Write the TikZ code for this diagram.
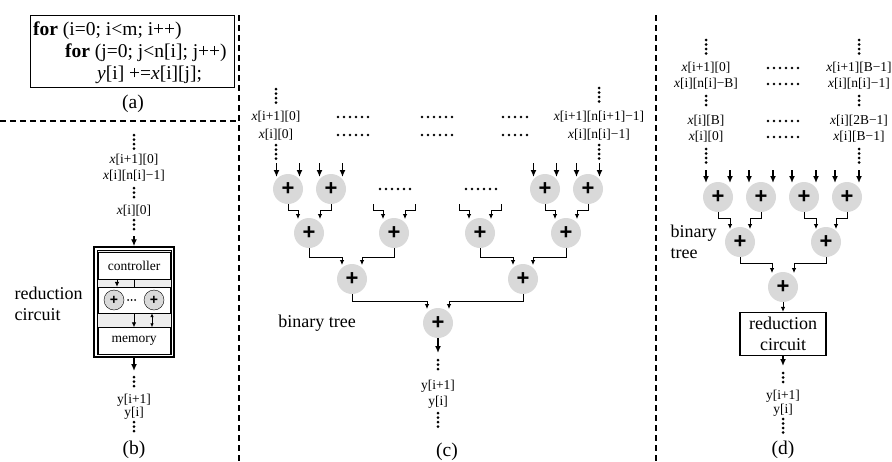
\documentclass[tikz,border=0pt]{standalone}
\usepackage{fontspec}
\setmainfont{Liberation Serif}
\newfontfamily\plusfont{Liberation Sans}
\usetikzlibrary{arrows.meta, positioning, calc}
\definecolor{addGray}{HTML}{D9D9D9}
\definecolor{panelGray}{HTML}{EDEDED}

\begin{document}
\begin{tikzpicture}[
    x=1pt, y=-1pt,
    font=\fontsize{13.5}{15}\selectfont,
    big/.style={font=\fontsize{18}{21}\selectfont},
    codeline/.style={font=\fontsize{19.5}{21}\selectfont, anchor=west, inner sep=0pt},
    panelcap/.style={font=\fontsize{19.5}{21}\selectfont},
    idx/.style={inner sep=0pt},
    adder/.style={circle, fill=addGray, minimum size=30pt, inner sep=0pt,
                  font=\plusfont\bfseries\fontsize{22}{22}\selectfont},
    miniadd/.style={circle, draw, fill=addGray, minimum size=20pt, inner sep=0pt,
                    font=\plusfont\bfseries\fontsize{14}{14}\selectfont},
    unit/.style={draw, fill=white, minimum width=72pt, inner sep=0pt},
    vdots/.style={line width=3pt, line cap=round, dash pattern=on 0pt off 4.5pt},
    hdots/.style={line width=2.8pt, line cap=round, dash pattern=on 0pt off 6pt},
    feed/.style={-{Latex[length=7pt,width=6pt]}, line width=1.4pt},
    link/.style={-{Latex[length=5pt,width=4.5pt]}, line width=0.8pt},
    divider/.style={line width=1.3pt, dash pattern=on 6pt off 4pt},
  ]
  \useasboundingbox (0,0) rectangle (892,461);

  % (a) loop nest
  \node[draw, line width=0.9pt, minimum width=204pt, minimum height=72pt] (code) at (132,51) {};
  \node[codeline] (loop1) at (33,31) {\textbf{for} (i=0; i<m; i++)};
  \node[codeline] (loop2) at (65,53) {\textbf{for} (j=0; j<n[i]; j++)};
  \node[codeline] (loop3) at (97,75) {\textit{y}[i] +=\textit{x}[i][j];};
  \node[panelcap] (capa) at (133,104) {(a)};

  \draw[divider] (0,121) -- (239,121);
  \draw[divider] (239,15) -- (239,461);
  \draw[divider] (656,15) -- (656,461);

  % (b) reduction circuit
  \draw[vdots] (134,135) -- (134,149);
  \node[idx] (bx1) at (134,160) {\textit{x}[i+1][0]};
  \node[idx] (bx2) at (134,176) {\textit{x}[i][n[i]−1]};
  \draw[vdots] (134,188) -- (134,201);
  \node[idx] (bx3) at (134,211) {\textit{x}[i][0]};
  \draw[vdots] (134,220) -- (134,233);
  \coordinate (bin) at (134,236);

  \node[draw, line width=1.5pt, minimum width=80pt, minimum height=110pt] (rc) at (134,302) {};
  \node[draw, line width=0.5pt, fill=panelGray, minimum width=74pt, minimum height=104pt] (rcin) at (rc.center) {};
  \node[unit, minimum height=27pt] (ctrl) at (134,266) {controller};
  \node[unit, minimum height=26pt] (addrow) at (134,300) {};
  \node[miniadd] (ma1) at (114,300) {+};
  \node[miniadd] (ma2) at (154,300) {+};
  \draw[line width=2pt, line cap=round, dash pattern=on 0pt off 3.5pt] (ma1.east) ++(4,0) -- ++(9,0);
  \node[unit, minimum height=27pt] (mem) at (134,341) {memory};
  \draw[link] ([xshift=-17pt]ctrl.south) -- ([xshift=-17pt]addrow.north);
  \draw[thin] (ctrl.south) -- (addrow.north);
  \draw[link] (addrow.south) -- (mem.north);
  \draw[{Latex[length=4pt,width=3.5pt]}-{Latex[length=4pt,width=3.5pt]}, line width=0.8pt]
    ([xshift=18pt]addrow.south) -- ([xshift=18pt]mem.north);
  \draw[feed] (bin) -- (rc.north);
  \coordinate (bout) at (134,371);
  \draw[feed] (rc.south) -- (bout);
  \draw[vdots] (134,377) -- (134,390);
  \node[idx] (by1) at (134,400) {y[i+1]};
  \node[idx] (by2) at (134,413) {y[i]};
  \draw[vdots] (134,422) -- (134,435);
  \node[big, align=left, anchor=west] (rcname) at (11,304) {reduction\\circuit};
  \node[panelcap] (capb) at (134,450) {(b)};

  % (c) binary adder tree
  \node[adder] (c11) at (288,189) {+};
  \node[adder] (c12) at (331,189) {+};
  \node[adder] (c13) at (545,189) {+};
  \node[adder] (c14) at (588,189) {+};
  \node[adder] (c21) at (309,233) {+};
  \node[adder] (c22) at (394,233) {+};
  \node[adder] (c23) at (480,233) {+};
  \node[adder] (c24) at (566,233) {+};
  \node[adder] (c31) at (352,279) {+};
  \node[adder] (c32) at (523,279) {+};
  \node[adder] (c41) at (438,323) {+};

  \foreach \n in {c11,c12,c13,c14} {
    \draw[feed] ($(\n.center)+(-11.5,-26)$) -- ++(0,14);
    \draw[feed] ($(\n.center)+(11.5,-26)$) -- ++(0,14);
  }
  \draw[link] (c11.south) -- ++(0,6) -| ($(c21.center)+(-11,-14)$);
  \draw[link] (c12.south) -- ++(0,6) -| ($(c21.center)+(11,-14)$);
  \draw[link] (c13.south) -- ++(0,6) -| ($(c24.center)+(-11,-14)$);
  \draw[link] (c14.south) -- ++(0,6) -| ($(c24.center)+(11,-14)$);
  \foreach \n in {c22,c23} {
    \draw[link] ($(\n.center)+(-21,-29)$) -- ++(0,6) -| ($(\n.center)+(-11,-14)$);
    \draw[link] ($(\n.center)+(21,-29)$) -- ++(0,6) -| ($(\n.center)+(11,-14)$);
  }
  \draw[link] (c21.south) -- ++(0,9) -| ($(c31.center)+(-10,-14)$);
  \draw[link] (c22.south) -- ++(0,9) -| ($(c31.center)+(10,-14)$);
  \draw[link] (c23.south) -- ++(0,9) -| ($(c32.center)+(-10,-14)$);
  \draw[link] (c24.south) -- ++(0,9) -| ($(c32.center)+(10,-14)$);
  \draw[link] (c31.south) -- ++(0,7) -| ($(c41.center)+(-11,-14)$);
  \draw[link] (c32.south) -- ++(0,7) -| ($(c41.center)+(11,-14)$);

  \draw[vdots] (276,89) -- (276,103);
  \node[idx] (cx1) at (276,117) {\textit{x}[i+1][0]};
  \node[idx] (cx2) at (276,135) {\textit{x}[i][0]};
  \draw[vdots] (276,145) -- (276,159);
  \draw[vdots] (599,88) -- (599,102);
  \node[idx] (cx3) at (599,117) {\textit{x}[i+1][n[i+1]−1]};
  \node[idx] (cx4) at (599,135) {\textit{x}[i][n[i]−1]};
  \draw[vdots] (599,145) -- (599,159);
  \foreach \cx in {353,437,518}
    \foreach \cy in {117,135}
      \draw[hdots] (\cx-15,\cy) -- (\cx+15,\cy);
  \foreach \cx in {395,481}
    \draw[hdots] (\cx-15,189) -- (\cx+15,189);

  \coordinate (cout) at (438,353);
  \draw[feed] (c41.south) -- (cout);
  \draw[vdots] (438,360) -- (438,373);
  \node[idx] (cy1) at (438,386) {y[i+1]};
  \node[idx] (cy2) at (438,402) {y[i]};
  \draw[vdots] (438,413) -- (438,427);
  \node[big] (ctree) at (317,323) {binary tree};
  \node[panelcap] (capc) at (447,452) {(c)};

  % (d) tree + reduction circuit
  \node[adder] (d11) at (718,197) {+};
  \node[adder] (d12) at (761,197) {+};
  \node[adder] (d13) at (804,197) {+};
  \node[adder] (d14) at (847,197) {+};
  \node[adder] (d21) at (740,242) {+};
  \node[adder] (d22) at (826,242) {+};
  \node[adder] (d31) at (783,287) {+};

  \foreach \n in {d11,d12,d13,d14} {
    \draw[feed] ($(\n.center)+(-12,-27)$) -- ++(0,13);
    \draw[feed] ($(\n.center)+(12,-27)$) -- ++(0,13);
  }
  \draw[link] (d11.south) -- ++(0,6) -| ($(d21.center)+(-10,-13)$);
  \draw[link] (d12.south) -- ++(0,6) -| ($(d21.center)+(10,-13)$);
  \draw[link] (d13.south) -- ++(0,6) -| ($(d22.center)+(-10,-13)$);
  \draw[link] (d14.south) -- ++(0,6) -| ($(d22.center)+(10,-13)$);
  \draw[link] (d21.south) -- ++(0,6) -| ($(d31.center)+(-11,-14)$);
  \draw[link] (d22.south) -- ++(0,6) -| ($(d31.center)+(11,-14)$);

  \draw[vdots] (706,40) -- (706,54);
  \node[idx] (dx1) at (706,68) {\textit{x}[i+1][0]};
  \node[idx] (dx2) at (706,84) {\textit{x}[i][n[i]−B]};
  \draw[vdots] (706,96) -- (706,109);
  \node[idx] (dx3) at (706,121) {\textit{x}[i][B]};
  \node[idx] (dx4) at (706,137) {\textit{x}[i][0]};
  \draw[vdots] (706,149) -- (706,163);
  \draw[vdots] (859,40) -- (859,54);
  \node[idx] (dx5) at (859,68) {\textit{x}[i+1][B−1]};
  \node[idx] (dx6) at (859,84) {\textit{x}[i][n[i]−1]};
  \draw[vdots] (859,96) -- (859,109);
  \node[idx] (dx7) at (859,121) {\textit{x}[i][2B−1]};
  \node[idx] (dx8) at (859,137) {\textit{x}[i][B−1]};
  \draw[vdots] (859,149) -- (859,163);
  \foreach \cy in {68,84,121,137}
    \draw[hdots] (768,\cy) -- (798,\cy);

  \node[draw, line width=1.4pt, big, align=center, inner sep=0pt,
        minimum width=86pt, minimum height=43pt] (rc2) at (783,334) {reduction\\circuit};
  \draw[link] (d31.south) -- (rc2.north);
  \coordinate (dout) at (783,366);
  \draw[feed] (rc2.south) -- (dout);
  \draw[vdots] (783,373) -- (783,386);
  \node[idx] (dy1) at (783,396) {y[i+1]};
  \node[idx] (dy2) at (783,410) {y[i]};
  \draw[vdots] (783,419) -- (783,433);
  \node[big, align=left, anchor=west] (dtree) at (667,242) {binary\\tree};
  \node[panelcap] (capd) at (783,450) {(d)};
\end{tikzpicture}
\end{document}
